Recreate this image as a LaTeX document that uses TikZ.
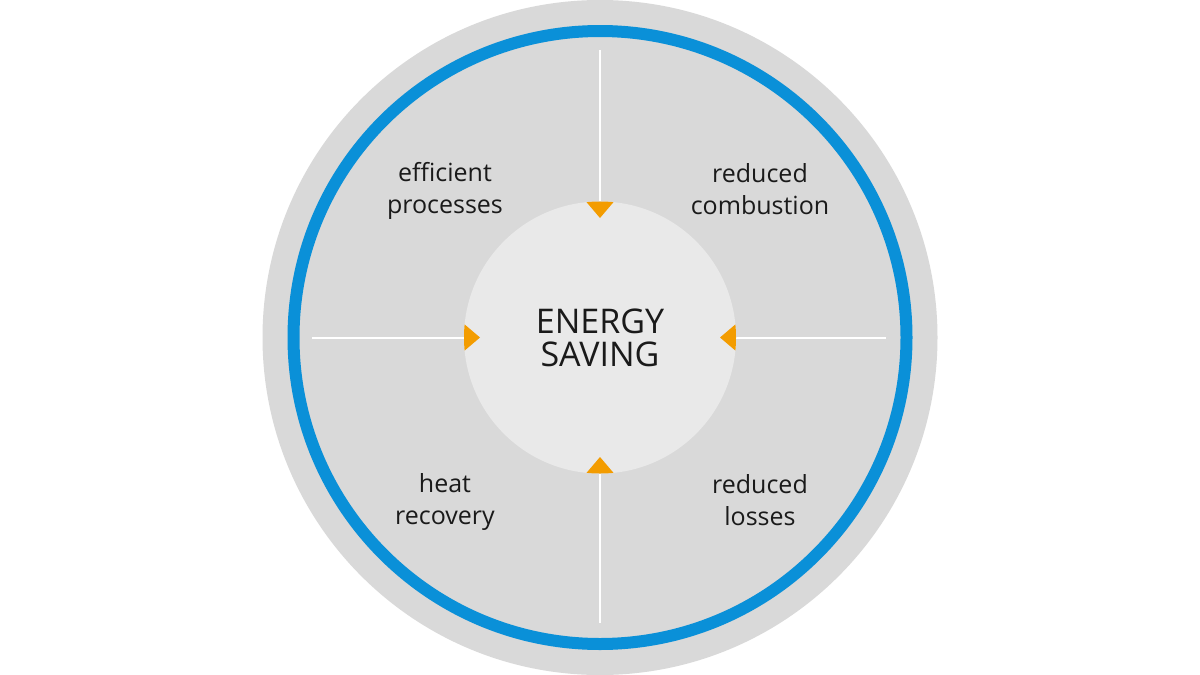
\documentclass[tikz,border=0pt]{standalone}
\usepackage{fontspec}
\setmainfont{Open Sans}
\definecolor{outergrey}{HTML}{D9D9D9}
\definecolor{innergrey}{HTML}{E9E9E9}
\definecolor{ringblue}{HTML}{0A90D8}
\definecolor{arroworange}{HTML}{F39C00}
\definecolor{txt}{HTML}{1A1A1A}
\begin{document}
\begin{tikzpicture}[x=1pt,y=-1pt,
  label/.style={text=txt,font=\fontsize{25}{31.5}\selectfont,align=center,inner sep=0pt},
  spoke/.style={draw=white,line width=2pt},
  tri/.style={fill=arroworange}]
\useasboundingbox (0,0) rectangle (1200,675);
\fill[white] (0,0) rectangle (1200,675);
\fill[outergrey] (600,337.5) circle (337.5);
\draw[ringblue,line width=12] (600,337.5) circle (306.5);
\node[circle,fill=innergrey,minimum size=272pt,inner sep=0pt,
      text=txt,font=\fontsize{34}{34}\selectfont,align=center] (core) at (600,337.5) {ENERGY\\[-1pt]SAVING};
% spoke ends
\coordinate (ntop) at (600,50);
\coordinate (nbot) at (600,623);
\coordinate (nleft) at (312,337.5);
\coordinate (nright) at (886,337.5);
\draw[spoke] (ntop) -- (core.north);
\draw[spoke] (nbot) -- (core.south);
\draw[spoke] (nleft) -- (core.west);
\draw[spoke] (nright) -- (core.east);
% orange triangles
\begin{scope}
\clip (core.center) circle (136);
\fill[tri] (583,198) -- (617,198) -- (600,218) -- cycle;
\fill[tri] (583,477) -- (617,477) -- (600,457) -- cycle;
\fill[tri] (460,320.5) -- (460,354.5) -- (480,337.5) -- cycle;
\fill[tri] (740,320.5) -- (740,354.5) -- (720,337.5) -- cycle;
\end{scope}
% labels
\node[label] (effproc) at (445,191) {efficient\\processes};
\node[label] (redcomb) at (760,189) {reduced\\combustion};
\node[label] (heatrec) at (445,502) {heat\\recovery};
\node[label] (redloss) at (760,500) {reduced\\losses};
\end{tikzpicture}
\end{document}
